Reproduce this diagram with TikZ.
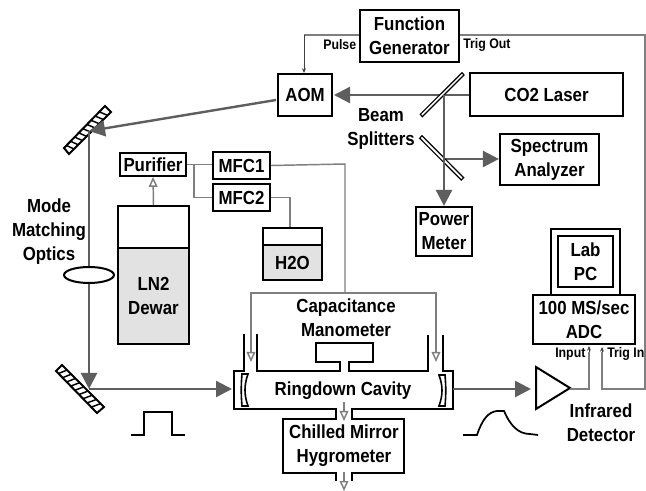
\documentclass[tikz,border=0pt]{standalone}
\usepackage{fontspec}
\setmainfont{Liberation Sans}[FakeStretch=0.89]
\usetikzlibrary{arrows.meta,calc,shapes.geometric}
\definecolor{beamc}{HTML}{5E5E5E}
\definecolor{linec}{HTML}{7F7F7F}
\definecolor{fillc}{HTML}{E2E2E2}
\tikzset{
  lab/.style={inner sep=0pt,align=center,font=\fontsize{14.2}{18}\selectfont\bfseries},
  small/.style={inner sep=0pt,align=center,font=\fontsize{10.4}{11}\selectfont\bfseries},
  box/.style={lab,draw=black,line width=1.6pt},
  beam/.style={draw=beamc,line width=1.8pt,-{Triangle[length=12pt,width=12pt]}},
  gas/.style={draw=linec,line width=1.1pt},
  gasarrow/.style={gas,-{Triangle[open,fill=white,length=7.5pt,width=6.5pt]}},
  sig/.style={draw=black!75,line width=0.7pt,-{Stealth[length=3.5pt,width=3pt]}},
  wall/.style={draw=black,line width=1.5pt,line join=miter},
  splitter/.style={draw=black,fill=white,line width=0.9pt},
  mirrorbody/.style={draw=black,fill=white,line width=1.5pt},
  hatch/.style={draw=black,line width=1.1pt},
  pulse/.style={draw=black,line width=1.3pt,line join=miter}
}
\newcommand{\bx}[6][]{\node[box,#1,minimum width={(#4-#2)*0.75pt},minimum height={(#5-#3)*0.75pt}] (#6) at ({(#2+#4)/2},{(#3+#5)/2})}
\begin{document}
\begin{tikzpicture}[x=0.75pt,y=-0.75pt]
\useasboundingbox (0,0) rectangle (646,491);
\fill[white] (0,0) rectangle (646,491);

% instruments
\bx{360}{10}{459}{62}{fg} {Function\\Generator};
\bx{278}{74}{332}{116}{aom} {AOM};
\bx{470}{73}{623}{116}{laser} {CO2 Laser};
\bx{500}{134}{599}{185}{spec} {Spectrum\\Analyzer};
\bx{416}{207}{472}{256}{power} {Power\\Meter};
\bx{551}{229}{620}{295}{pcouter} {};
\bx{558}{236}{613}{287}{pc} {Lab\\PC};
\bx{533}{295}{635}{344}{adc} {100 MS/sec\\ADC};
\bx[line width=1.3pt]{120}{153}{186}{176}{pur} {Purifier};
\bx{213}{152}{270}{179}{mfca} {MFC1};
\bx{213}{184}{270}{211}{mfcb} {MFC2};
\bx[line width=1.3pt]{118}{206}{189}{248}{dewartop} {};
\bx[line width=1.3pt,fill=fillc]{118}{248}{189}{344}{dewar} {LN2\\Dewar};
\bx[line width=1.3pt]{263}{228}{322}{245}{watertop} {};
\bx[line width=1.3pt,fill=fillc]{263}{245}{322}{280}{water} {H2O};

% hatched mirrors
\coordinate (ma) at (64,148); \coordinate (mb) at (105,106);
\coordinate (mc) at (69,154); \coordinate (md) at (111,112);
\coordinate (na) at (56,371); \coordinate (nb) at (97,413);
\coordinate (nc) at (62,365); \coordinate (nd) at (104,407);
\draw[mirrorbody] (ma) -- (mb) -- (md) -- (mc) -- cycle;
\draw[mirrorbody] (na) -- (nb) -- (nd) -- (nc) -- cycle;
\foreach \t in {0.06,0.16,...,0.9}{
  \draw[hatch] ($(ma)!\t!(mb)$) -- ($(mc)!{\t+0.06}!(md)$);
  \draw[hatch] ($(na)!\t!(nb)$) -- ($(nc)!{\t+0.06}!(nd)$);
}

% beams
\coordinate (m1) at (89,131);
\coordinate (m2) at (89,389);
\coordinate (bs1) at (444,95);
\coordinate (bs2) at (444,159);
\coordinate (aomout) at (276,100);
\coordinate (aomin) at (334,95);
\coordinate (cavin) at (232,389);
\coordinate (cavout) at (453,389);
\draw[beam] (laser.west |- bs1) -- (aomin);
\draw[beam] (bs1) -- (bs1 |- power.north);
\draw[beam] (bs2) -- (bs2 -| spec.west);
\draw[beam] (aomout) -- (m1);
\draw[draw=beamc,line width=1.8pt] (m1) -- (89,375);
\draw[beam] (89,375) -- (m2);
\draw[beam] (m2) -- (cavin);

% lens
\node[ellipse,draw=black,fill=white,line width=1.5pt,inner sep=0pt,minimum width=50*0.75pt,minimum height=16*0.75pt] (lens) at (89,275) {};

% beam splitters
\draw[splitter] (420.3,114.3) -- (462,72.7) -- (464,75) -- (422.3,116.7) -- cycle;
\draw[splitter] (422,135.7) -- (463.7,177.7) -- (461.3,180) -- (419.7,138.3) -- cycle;
\draw[draw=beamc,line width=1.8pt] (bs2 |- 0,95) -- (bs2 |- 0,185);

% gas lines
\coordinate (split) at (194,164);
\coordinate (main) at (345,164);
\coordinate (hdr) at (345,293);
\coordinate (hlend) at (251,362);
\coordinate (hrend) at (436,362);
\coordinate (wi) at (290,198);
\draw[gas] (pur.east) -- (mfca.west |- pur.east);
\draw[gas] (split) |- (mfcb.west);
\draw[gas] (mfca.east) -- (main) -- (hdr);
\draw[gas] (mfcb.east) -| (watertop.north -| wi);
\draw[gasarrow] (hdr) -| (hlend);
\draw[gasarrow] (hdr) -| (hrend);
\draw[gasarrow] (dewartop.north) -- (pur.south);

% ringdown cell
\draw[wall] (244,334) -- (244,371) -- (234,371) -- (234,409) -- (336,409) -- (336,419) -- (283,419) -- (283,473) -- (336,473) -- (336,481);
\draw[wall] (443,335) -- (443,371) -- (453,371) -- (453,409) -- (352,409) -- (352,419) -- (404,419) -- (404,473) -- (352,473) -- (352,481);
\draw[wall] (257,334) -- (257,371) -- (340,371) -- (340,362) -- (316,362) -- (316,343) -- (373,343) -- (373,362) -- (349,362) -- (349,371) -- (428,371) -- (428,335);
\draw[wall,line width=1.2pt] (242,374) -- (248,374) .. controls (244,385) and (244,395) .. (248,406) -- (242,406) .. controls (241,395) and (241,385) .. (242,374) -- cycle;
\draw[wall,line width=1.2pt] (445,375) -- (439,375) .. controls (443,386) and (443,395) .. (439,406) -- (445,406) .. controls (446,395) and (446,386) .. (445,375) -- cycle;
\coordinate (ga) at (344,402); \coordinate (gb) at (344,421);
\coordinate (gc) at (344,472); \coordinate (gd) at (344,491);
\draw[gasarrow] (ga) -- (gb);
\draw[gasarrow] (gc) -- (gd);
\node[lab] (man) at (346,318) {Capacitance\\Manometer};
\node[lab] (ring) at (343,391) {Ringdown Cavity};
\node[lab] (hyg) at (344,446) {Chilled Mirror\\Hygrometer};

% detector
\draw[wall,fill=white] (536,367) -- (536,409) -- (570,388) -- cycle;
\coordinate (detin) at (531,389);
\coordinate (detout) at (570,389);
\draw[beam] (cavout) -- (detin);

% signals
\coordinate (pulsecorner) at (304,35);
\coordinate (trigcorner) at (645,35);
\coordinate (trigbottom) at (645,389);
\coordinate (triga) at (602,389);
\coordinate (trigstub) at (602,352);
\coordinate (trigend) at (602,347);
\coordinate (deta) at (589,389);
\coordinate (detstub) at (589,352);
\coordinate (detend) at (589,346);
\draw[gas] (fg.west |- pulsecorner) -- (pulsecorner);
\draw[sig] (pulsecorner) -- (pulsecorner |- aom.north);
\draw[gas] (fg.east |- trigcorner) -- (trigcorner) -- (trigbottom) -- (triga) -- (trigstub);
\draw[sig] (trigstub) -- (trigend);
\draw[gas] (detout) -- (deta) -- (detstub);
\draw[sig] (detstub) -- (detend);

% pulses
\draw[pulse] (131,435) -- (144,435) -- (144,412) -- (172,412) -- (172,435) -- (185,435);
\draw[pulse] (463,435) -- (477,435) .. controls (482,420) and (488,412) .. (497,411) -- (504,411) .. controls (510,425) and (518,434) .. (530,434) -- (538,435);

% labels
\node[lab] (beamlab) at (381,129) {Beam\\Splitters};
\node[lab] (modelab) at (49,232) {Mode\\Matching\\Optics};
\node[lab] (irlab) at (601,423) {Infrared\\Detector};
\node[small,anchor=west] (pulselab) at (323,45) {Pulse};
\node[small,anchor=west] (troutlab) at (463,45) {Trig Out};
\node[small,anchor=west] (inlab) at (555,354) {Input};
\node[small,anchor=west] (trinlab) at (607,354) {Trig In};
\end{tikzpicture}
\end{document}
